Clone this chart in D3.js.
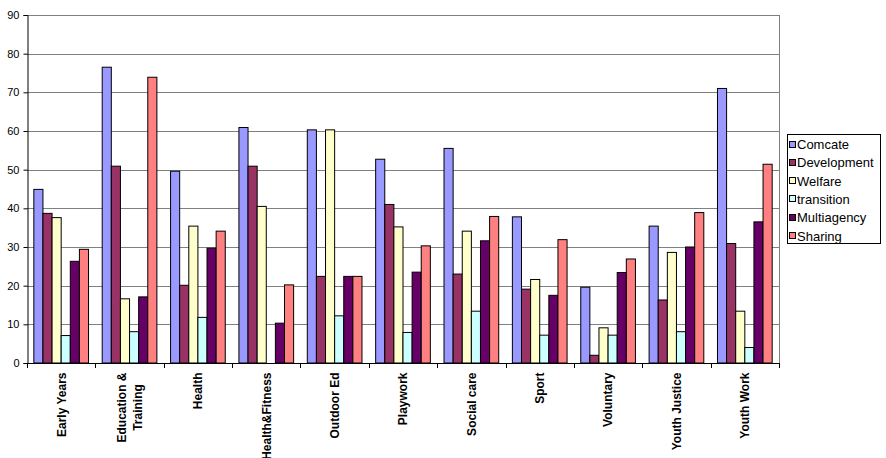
<!DOCTYPE html>
<html>
<head>
<meta charset="utf-8">
<script src="https://cdn.jsdelivr.net/npm/d3@7"></script>
<style>
  body { margin: 0; background: #fff; }
  text { font-family: "Liberation Sans", Arial, sans-serif; }
</style>
</head>
<body>
<div id="chart"></div>
<script>
var categories = ["Early Years", "Education &\nTraining", "Health", "Health&Fitness", "Outdoor Ed",
  "Playwork", "Social care", "Sport", "Voluntary", "Youth Justice", "Youth Work"];
var seriesNames = ["Comcate", "Development", "Welfare", "transition", "Multiagency", "Sharing"];
var seriesColors = ["#9999FF", "#993366", "#FFFFCC", "#CCFFFF", "#660066", "#FF8080"];

// one array per series, in category order
var comcate     = [44.9, 76.5, 49.6, 60.9, 60.3, 52.7, 55.5, 37.8, 19.6, 35.4, 71.0];
var development = [38.7, 50.9, 20.1, 50.9, 22.4, 41.0, 23.0, 19.1, 2.0, 16.3, 30.9];
var welfare     = [37.6, 16.6, 35.4, 40.5, 60.3, 35.2, 34.1, 21.6, 9.1, 28.6, 13.4];
var transition  = [7.1, 8.1, 11.8, 0, 12.2, 7.9, 13.4, 7.2, 7.2, 8.1, 4.0];
var multiagency = [26.3, 17.1, 29.7, 10.3, 22.4, 23.5, 31.6, 17.5, 23.4, 30.0, 36.5];
var sharing     = [29.4, 73.9, 34.1, 20.2, 22.4, 30.3, 37.9, 31.9, 26.9, 38.9, 51.4];
var yTicks = [0, 10, 20, 30, 40, 50, 60, 70, 80, 90];

var values = [comcate, development, welfare, transition, multiagency, sharing];

var W = 886, H = 458;
var plotL = 27, plotR = 779, plotT = 15, plotB = 363;

var svg = d3.select("#chart").append("svg")
    .attr("width", W)
    .attr("height", H);

var x0 = d3.scaleBand().domain(categories).range([plotL, plotR]);
var x1 = d3.scaleBand().domain(seriesNames).range([0, x0.bandwidth()]).paddingOuter(0.75);
var y = d3.scaleLinear().domain([0, 90]).range([plotB, plotT]);

// gridlines
svg.append("g")
    .selectAll("line")
    .data(yTicks.filter(d => d > 0))
    .enter().append("line")
    .attr("x1", plotL).attr("x2", plotR)
    .attr("y1", d => Math.round(y(d)) + 0.5).attr("y2", d => Math.round(y(d)) + 0.5)
    .attr("stroke", "#808080")
    .attr("stroke-width", 1);

// right border of plot area
svg.append("line")
    .attr("x1", plotR + 0.5).attr("x2", plotR + 0.5)
    .attr("y1", plotT).attr("y2", plotB)
    .attr("stroke", "#808080");

// bars
var groups = svg.append("g")
    .selectAll("g")
    .data(categories)
    .enter().append("g")
    .attr("transform", d => "translate(" + x0(d) + ",0)");

groups.selectAll("rect")
    .data((c, ci) => seriesNames.map((s, si) => ({ s: s, si: si, v: values[si][ci] })))
    .enter().append("rect")
    .filter(d => d.v > 0)
    .attr("x", d => x1(d.s))
    .attr("y", d => y(d.v))
    .attr("width", x1.bandwidth())
    .attr("height", d => y(0) - y(d.v))
    .attr("fill", d => seriesColors[d.si])
    .attr("stroke", "#000")
    .attr("stroke-width", 1);

// y axis
var yAxis = d3.axisLeft(y).tickValues(yTicks).tickSize(4).tickPadding(4);
var yg = svg.append("g")
    .attr("transform", "translate(" + (plotL + 0.5) + ",0)")
    .call(yAxis);
yg.select(".domain").attr("stroke", "#000");
yg.selectAll(".tick line").attr("stroke", "#000");
yg.selectAll(".tick text")
    .style("font-family", '"Liberation Sans", Arial, sans-serif')
    .style("font-size", "11px")
    .attr("fill", "#000");

// x axis line and ticks between categories
svg.append("line")
    .attr("x1", plotL).attr("x2", plotR)
    .attr("y1", plotB + 0.5).attr("y2", plotB + 0.5)
    .attr("stroke", "#000");
svg.append("g")
    .selectAll("line")
    .data(d3.range(categories.length + 1))
    .enter().append("line")
    .attr("x1", i => Math.round(plotL + i * x0.step()) + 0.5)
    .attr("x2", i => Math.round(plotL + i * x0.step()) + 0.5)
    .attr("y1", plotB).attr("y2", plotB + 5)
    .attr("stroke", "#000");

// category labels, rotated
categories.forEach(function (c) {
  var lines = c.split("\n");
  var cx = x0(c) + x0.bandwidth() / 2;
  var t = svg.append("text")
      .style("font-size", "12px")
      .style("font-weight", "bold")
      .attr("text-anchor", "middle");
  lines.forEach(function (ln) {
    t.append("tspan").text(ln);
  });
  var maxLen = 0;
  t.selectAll("tspan").each(function () {
    maxLen = Math.max(maxLen, this.getComputedTextLength());
  });
  var cy = 372.5 + maxLen / 2;
  var n = lines.length;
  t.attr("transform", "translate(" + cx + "," + cy + ") rotate(-90)");
  t.selectAll("tspan")
      .attr("x", 0)
      .attr("y", (d, i) => (i - (n - 1) / 2) * 16)
      .attr("dy", "0.36em");
});

// legend
var lg = svg.append("g").attr("transform", "translate(787.5,134.5)");
lg.append("rect")
    .attr("width", 93)
    .attr("height", 109)
    .attr("fill", "#fff")
    .attr("stroke", "#000");
seriesNames.forEach(function (s, i) {
  var yy = 10 + i * 18.3;
  lg.append("rect")
      .attr("x", 2).attr("y", Math.round(yy - 3.5))
      .attr("width", 6).attr("height", 6)
      .attr("fill", seriesColors[i])
      .attr("stroke", "#000");
  lg.append("text")
      .attr("x", 9.5).attr("y", yy)
      .attr("dy", "0.36em")
      .style("font-size", "13px")
      .text(s);
});
</script>
</body>
</html>
